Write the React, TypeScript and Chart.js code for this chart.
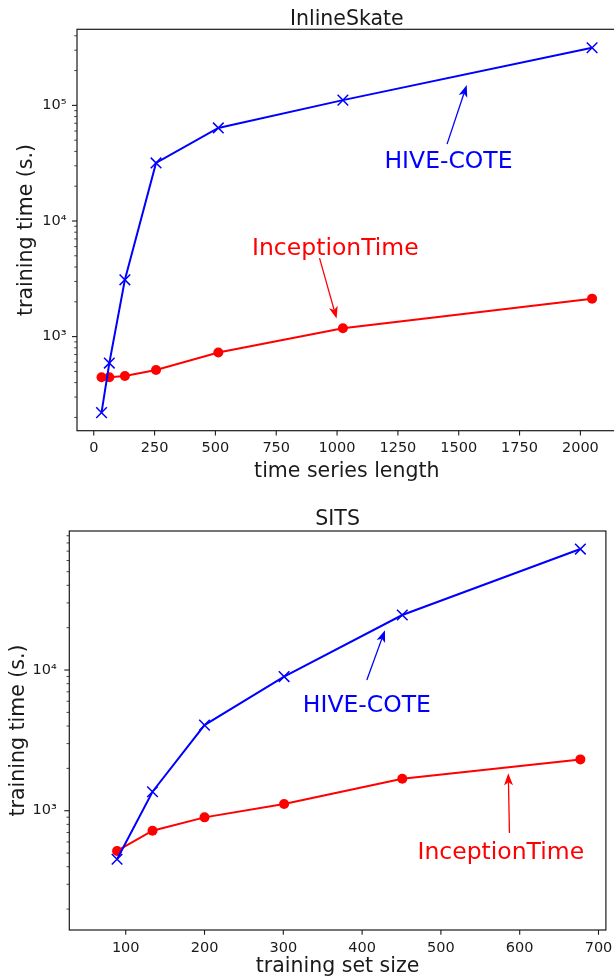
import React, { useEffect, useRef } from 'react';
import { Chart, registerables } from 'chart.js';

Chart.register(...registerables);

const FONT = "'DejaVu Sans', 'Liberation Sans', sans-serif";

// ---------- InlineSkate panel ----------
const skateTitle = 'InlineSkate';
const skateXLabel = 'time series length';
const skateYLabel = 'training time (s.)';
const skateLengths = [32, 64, 128, 256, 512, 1024, 2048];
const skateHiveCote = [220, 590, 3100, 31800, 63800, 111000, 315000];
const skateInceptionTime = [445, 445, 457, 515, 728, 1183, 2130];
const skateXTicks = [0, 250, 500, 750, 1000, 1250, 1500, 1750, 2000];
const skateYDecades = [1e3, 1e4, 1e5];

// ---------- SITS panel ----------
const sitsTitle = 'SITS';
const sitsXLabel = 'training set size';
const sitsYLabel = 'training time (s.)';
const sitsSizes = [89, 134, 200, 301, 451, 677];
const sitsHiveCote = [452, 1365, 4060, 8980, 24600, 72400];
const sitsInceptionTime = [518, 721, 897, 1116, 1690, 2317];
const sitsXTicks = [100, 200, 300, 400, 500, 600, 700];
const sitsYDecades = [1e3, 1e4];

const SERIES_NAMES = ['HIVE-COTE', 'InceptionTime'];
const BLUE = '#0000ff';
const RED = '#ff0000';
const INK = '#1a1a1a';

type Annotation = {
  text: string; color: string;
  textX: number; textY: number;
  fromX: number; fromY: number;
  toX: number; toY: number;
};

type Panel = {
  title: string; xLabel: string; yLabel: string;
  xValues: number[]; hive: number[]; inception: number[];
  xTicks: number[]; yDecades: number[];
  xMin: number; xMax: number; yMin: number; yMax: number;
  annotations: Annotation[];
  box: {
    width: number; height: number; left: number; top: number; right: number; bottom: number;
    titleBaseline: number; xLabelBaseline: number; yLabelBaseline: number;
    yTickPad: number; xTickPad: number;
  };
};

const SUP: Record<string, string> = { '0': '⁰', '1': '¹', '2': '²', '3': '³', '4': '⁴', '5': '⁵', '6': '⁶', '7': '⁷', '8': '⁸', '9': '⁹', '-': '⁻' };
const powLabel = (v: number) => '10' + String(Math.round(Math.log10(v))).split('').map((c) => SUP[c] || c).join('');

function logTickValues(min: number, max: number): number[] {
  const out: number[] = [];
  for (let e = Math.floor(Math.log10(min)); e <= Math.ceil(Math.log10(max)); e++) {
    for (let m = 1; m < 10; m++) {
      const v = m * Math.pow(10, e);
      if (v >= min && v <= max) out.push(v);
    }
  }
  return out;
}

const panels: Panel[] = [
  {
    title: skateTitle, xLabel: skateXLabel, yLabel: skateYLabel,
    xValues: skateLengths, hive: skateHiveCote, inception: skateInceptionTime,
    xTicks: skateXTicks, yDecades: skateYDecades,
    xMin: -68.8, xMax: 2148.8, yMin: 153.5, yMax: 455000,
    annotations: [
      { text: 'HIVE-COTE', color: BLUE, textX: 1458, textY: 34300, fromX: 1452, fromY: 46200, toX: 1533, toY: 150000 },
      { text: 'InceptionTime', color: RED, textX: 993, textY: 6050, fromX: 928, fromY: 4770, toX: 998, toY: 1433 },
    ],
    box: {
      width: 650, height: 490, left: 77, top: 29.3, right: 616.6, bottom: 430.7,
      titleBaseline: 25, xLabelBaseline: 476.5, yLabelBaseline: 31.5, yTickPad: 10.5, xTickPad: 9,
    },
  },
  {
    title: sitsTitle, xLabel: sitsXLabel, yLabel: sitsYLabel,
    xValues: sitsSizes, hive: sitsHiveCote, inception: sitsInceptionTime,
    xTicks: sitsXTicks, yDecades: sitsYDecades,
    xMin: 28.4, xMax: 709.4, yMin: 142, yMax: 97300,
    annotations: [
      { text: 'HIVE-COTE', color: BLUE, textX: 406, textY: 5800, fromX: 406, fromY: 8490, toX: 429, toY: 19200 },
      { text: 'InceptionTime', color: RED, textX: 576, textY: 526, fromX: 587, fromY: 694, toX: 585.5, toY: 1845 },
    ],
    box: {
      width: 650, height: 490, left: 69.3, top: 41, right: 605.9, bottom: 440,
      titleBaseline: 35, xLabelBaseline: 481.5, yLabelBaseline: 24, yTickPad: 12.5, xTickPad: 9.5,
    },
  },
];

function drawArrow(ctx: CanvasRenderingContext2D, x1: number, y1: number, x2: number, y2: number, color: string) {
  const ang = Math.atan2(y2 - y1, x2 - x1);
  const hl = 12, hw = 4.5, notch = 3;
  const c = Math.cos(ang), s = Math.sin(ang);
  const mx = x2 - c * (hl - notch), my = y2 - s * (hl - notch);
  ctx.strokeStyle = color;
  ctx.fillStyle = color;
  ctx.lineWidth = 1.3;
  ctx.beginPath();
  ctx.moveTo(x1, y1);
  ctx.lineTo(mx, my);
  ctx.stroke();
  const bx = x2 - c * hl, by = y2 - s * hl;
  const nx = -s, ny = c;
  ctx.beginPath();
  ctx.moveTo(x2, y2);
  ctx.lineTo(bx + nx * hw, by + ny * hw);
  ctx.lineTo(mx, my);
  ctx.lineTo(bx - nx * hw, by - ny * hw);
  ctx.closePath();
  ctx.fill();
}

function buildConfig(p: Panel): any {
  const b = p.box;
  const yTickVals = logTickValues(p.yMin, p.yMax);
  const decor = {
    id: 'mplDecor',
    afterDraw(chart: any) {
      const ctx: CanvasRenderingContext2D = chart.ctx;
      const a = chart.chartArea;
      const xs = chart.scales.x;
      const ys = chart.scales.y;
      ctx.save();
      // spines
      ctx.strokeStyle = INK;
      ctx.lineWidth = 1.2;
      ctx.strokeRect(a.left, a.top, a.right - a.left, a.bottom - a.top);
      // x tick marks
      ctx.lineWidth = 1.1;
      for (const t of xs.ticks) {
        const px = xs.getPixelForValue(t.value);
        ctx.beginPath();
        ctx.moveTo(px, a.bottom);
        ctx.lineTo(px, a.bottom + 4.8);
        ctx.stroke();
      }
      // y tick marks (major + minor)
      for (const t of ys.ticks) {
        const py = ys.getPixelForValue(t.value);
        const major = p.yDecades.includes(t.value);
        ctx.lineWidth = major ? 1.1 : 0.8;
        ctx.beginPath();
        ctx.moveTo(a.left, py);
        ctx.lineTo(a.left - (major ? 5 : 2.8), py);
        ctx.stroke();
      }
      // titles
      ctx.fillStyle = INK;
      ctx.font = `20.5px ${FONT}`;
      ctx.textAlign = 'center';
      ctx.textBaseline = 'alphabetic';
      const cx = (a.left + a.right) / 2;
      ctx.fillText(p.title, cx, b.titleBaseline);
      ctx.fillText(p.xLabel, cx, b.xLabelBaseline);
      ctx.save();
      ctx.translate(b.yLabelBaseline, (a.top + a.bottom) / 2);
      ctx.rotate(-Math.PI / 2);
      ctx.fillText(p.yLabel, 0, 0);
      ctx.restore();
      // annotations
      for (const an of p.annotations) {
        drawArrow(
          ctx,
          xs.getPixelForValue(an.fromX), ys.getPixelForValue(an.fromY),
          xs.getPixelForValue(an.toX), ys.getPixelForValue(an.toY),
          an.color,
        );
        ctx.fillStyle = an.color;
        ctx.font = `23.5px ${FONT}`;
        ctx.textAlign = 'center';
        ctx.textBaseline = 'alphabetic';
        ctx.fillText(an.text, xs.getPixelForValue(an.textX), ys.getPixelForValue(an.textY) + 0.365 * 23.5);
      }
      ctx.restore();
    },
  };

  return {
    type: 'line',
    data: {
      datasets: [
        {
          label: SERIES_NAMES[0],
          data: p.xValues.map((x, i) => ({ x, y: p.hive[i] })),
          borderColor: BLUE,
          backgroundColor: BLUE,
          borderWidth: 2,
          pointStyle: 'crossRot',
          pointRadius: 7.5,
          pointBorderWidth: 1.5,
          pointBorderColor: BLUE,
          tension: 0,
        },
        {
          label: SERIES_NAMES[1],
          data: p.xValues.map((x, i) => ({ x, y: p.inception[i] })),
          borderColor: RED,
          backgroundColor: RED,
          borderWidth: 2,
          pointStyle: 'circle',
          pointRadius: 5,
          pointBorderWidth: 0,
          pointBackgroundColor: RED,
          tension: 0,
        },
      ],
    },
    options: {
      responsive: false,
      animation: false,
      events: [],
      layout: { padding: { left: 0, top: b.top, right: b.width - b.right, bottom: 0 } },
      plugins: { legend: { display: false }, tooltip: { enabled: false }, title: { display: false } },
      scales: {
        x: {
          type: 'linear',
          position: 'bottom',
          min: p.xMin,
          max: p.xMax,
          grid: { display: false, drawTicks: false, tickLength: 0 },
          border: { display: false },
          afterBuildTicks: (scale: any) => { scale.ticks = p.xTicks.map((v) => ({ value: v })); },
          afterFit: (scale: any) => { scale.height = b.height - b.bottom; },
          ticks: {
            autoSkip: false,
            maxRotation: 0,
            padding: b.xTickPad,
            color: INK,
            font: { family: FONT, size: 14.5 },
            callback: (v: any) => String(v),
          },
        },
        y: {
          type: 'logarithmic',
          position: 'left',
          min: p.yMin,
          max: p.yMax,
          grid: { display: false, drawTicks: false, tickLength: 0 },
          border: { display: false },
          afterBuildTicks: (scale: any) => { scale.ticks = yTickVals.map((v) => ({ value: v })); },
          afterFit: (scale: any) => { scale.width = b.left; },
          ticks: {
            autoSkip: false,
            padding: b.yTickPad,
            color: INK,
            font: { family: FONT, size: 14.5 },
            callback: (v: any) => (p.yDecades.includes(v) ? powLabel(v) : ''),
          },
        },
      },
    },
    plugins: [decor],
  };
}

export default function App() {
  const ref1 = useRef<HTMLCanvasElement | null>(null);
  const ref2 = useRef<HTMLCanvasElement | null>(null);

  useEffect(() => {
    const charts: Chart[] = [];
    [ref1.current, ref2.current].forEach((cv, i) => {
      if (cv) charts.push(new Chart(cv, buildConfig(panels[i])));
    });
    return () => charts.forEach((c) => c.destroy());
  }, []);

  return (
    <div style={{ position: 'absolute', left: 0, top: 0, width: 614, height: 980, overflow: 'hidden', background: '#ffffff' }}>
      <canvas ref={ref1} width={panels[0].box.width} height={panels[0].box.height}
        style={{ display: 'block', width: panels[0].box.width, height: panels[0].box.height }} />
      <canvas ref={ref2} width={panels[1].box.width} height={panels[1].box.height}
        style={{ display: 'block', width: panels[1].box.width, height: panels[1].box.height }} />
    </div>
  );
}
